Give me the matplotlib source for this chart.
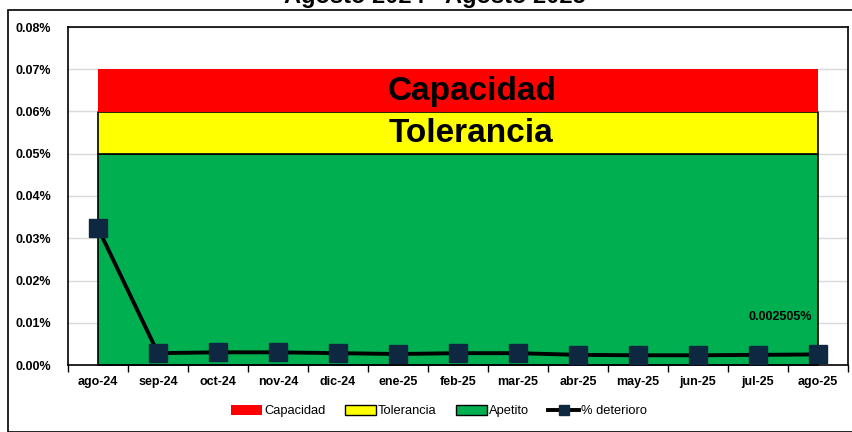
import numpy as np
import matplotlib
matplotlib.use("Agg")
import matplotlib.pyplot as plt
from matplotlib.patches import Rectangle
from matplotlib.lines import Line2D
from matplotlib.ticker import FuncFormatter, MultipleLocator

# datos
meses = ["ago-24", "sep-24", "oct-24", "nov-24", "dic-24", "ene-25", "feb-25",
         "mar-25", "abr-25", "may-25", "jun-25", "jul-25", "ago-25"]
deterioro = [0.0324, 0.0028, 0.0030, 0.0030, 0.0028, 0.0026, 0.0028,
             0.0028, 0.0024, 0.0023, 0.0023, 0.0024, 0.002505]
apetito = [0.05] * len(meses)
tolerancia = [0.01] * len(meses)
capacidad = [0.01] * len(meses)
titulo = "Agosto 2024 - Agosto 2025"
etiqueta_final = "0.002505%"

plt.rcParams['font.family'] = ['Liberation Sans', 'DejaVu Sans']

fig = plt.figure(figsize=(8.52, 4.32), dpi=100)
ax = fig.add_axes([68/852, 1-365/432, (848-68)/852, (365-27)/432])

x = np.arange(len(meses))
ap = np.array(apetito)
to = ap + np.array(tolerancia)
ca = to + np.array(capacidad)

ax.fill_between(x, 0, ap, color="#00B050", edgecolor="black", linewidth=1.2, zorder=2)
ax.fill_between(x, ap, to, color="#FFFF00", edgecolor="black", linewidth=1.2, zorder=2)
ax.fill_between(x, to, ca, color="#FF0000", linewidth=0, zorder=2)

ax.plot(x, deterioro, color="black", linewidth=2.8, marker="s", markersize=13,
        markerfacecolor="#0E2841", markeredgecolor="#0E2841", zorder=4, clip_on=False)

ax.text(x[-1] - 0.1, deterioro[-1] + 0.0089, etiqueta_final, ha="right", va="center",
        fontsize=9, fontweight="bold", zorder=5)

ax.text(6.23, 0.0648, "Capacidad", ha="center", va="center", fontsize=24,
        fontweight="bold", zorder=5)
ax.text(6.21, 0.0547, "Tolerancia", ha="center", va="center", fontsize=24,
        fontweight="bold", zorder=5)

ax.set_xlim(-0.5, len(meses) - 0.5)
ax.set_ylim(0, 0.08)
ax.yaxis.set_major_locator(MultipleLocator(0.01))
ax.yaxis.set_major_formatter(FuncFormatter(lambda v, p: f"{v:.2f}%"))
ax.grid(axis="y", color="#D9D9D9", linewidth=1, zorder=0)
ax.set_axisbelow(True)

ax.set_xticks(x)
ax.set_xticklabels(meses)
ax.set_xticks(np.arange(-0.5, len(meses)), minor=True)
ax.tick_params(axis="x", which="major", length=0, pad=8, labelsize=9)
ax.tick_params(axis="x", which="minor", length=5, width=1, direction="out")
ax.tick_params(axis="y", length=0, labelsize=9, pad=12)
for lab in ax.get_xticklabels() + ax.get_yticklabels():
    lab.set_fontweight("bold")
for s in ax.spines.values():
    s.set_color("black")
    s.set_linewidth(1.2)

handles = [
    Rectangle((0, 0), 1, 1, facecolor="#FF0000", edgecolor="none"),
    Rectangle((0, 0), 1, 1, facecolor="#FFFF00", edgecolor="black"),
    Rectangle((0, 0), 1, 1, facecolor="#00B050", edgecolor="black"),
    Line2D([0], [0], color="black", linewidth=2.8, marker="s", markersize=7,
           markerfacecolor="#0E2841", markeredgecolor="#0E2841"),
]
fig.legend(handles, ["Capacidad", "Tolerancia", "Apetito", "% deterioro"],
           loc="center", bbox_to_anchor=(439/852, 1 - 411/432), ncol=4, frameon=False,
           fontsize=9.3, handlelength=2.4, handleheight=0.8, handletextpad=0.15,
           columnspacing=1.5)

fig.text(435/852, 1 - 3/432, titulo, ha="center", va="baseline", fontsize=17,
         fontweight="bold")

fig.patches.append(Rectangle((8/852, 0), 1, 1 - 10/432, transform=fig.transFigure,
                             fill=False, edgecolor="black", linewidth=1.2))

fig.savefig("out.png", dpi=100)
